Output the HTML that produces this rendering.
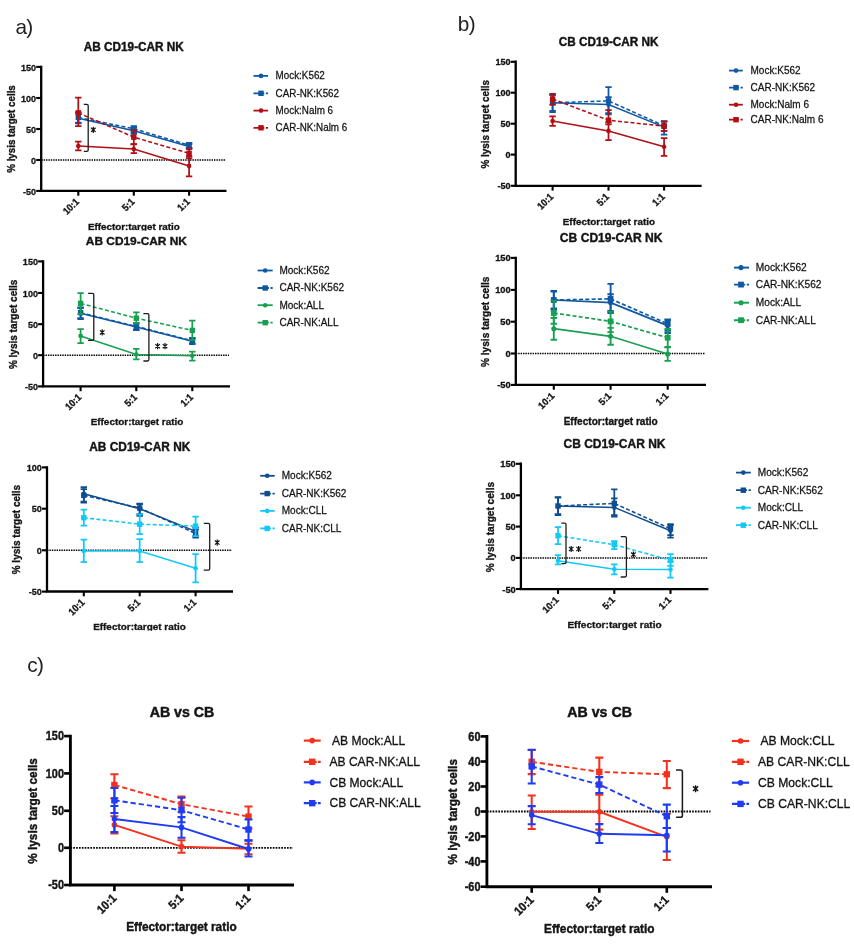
<!DOCTYPE html>
<html><head><meta charset="utf-8"><title>Figure</title>
<style>
html,body{margin:0;padding:0;background:#fff;}
body{width:854px;height:947px;overflow:hidden;font-family:"Liberation Sans", sans-serif;}
svg{display:block;font-family:"Liberation Sans", sans-serif;filter:blur(0.45px);}
</style></head><body>
<svg width="854" height="947" viewBox="0 0 854 947">
<rect width="854" height="947" fill="#fff"/>
<g>
<line x1="41.2" y1="160" x2="225.5" y2="160" stroke="#000" stroke-width="1.55" stroke-dasharray="1.45 0.95"/>
<path d="M78.3 118.2 L133.8 130.8 L189.1 146.6" fill="none" stroke="#0f58a3" stroke-width="1.55"/>
<path d="M78.3 113V123.4M75.1 113H81.5M75.1 123.4H81.5" fill="none" stroke="#0f58a3" stroke-width="1.75"/>
<circle cx="78.3" cy="118.2" r="2.3" fill="#0f58a3"/>
<path d="M133.8 127.6V133.8M130.6 127.6H137M130.6 133.8H137" fill="none" stroke="#0f58a3" stroke-width="1.75"/>
<circle cx="133.8" cy="130.8" r="2.3" fill="#0f58a3"/>
<path d="M189.1 144V149M185.9 144H192.3M185.9 149H192.3" fill="none" stroke="#0f58a3" stroke-width="1.75"/>
<circle cx="189.1" cy="146.6" r="2.3" fill="#0f58a3"/>
<path d="M78.3 117.4 L133.8 128.8 L189.1 145.2" fill="none" stroke="#0f58a3" stroke-width="1.55" stroke-dasharray="4 2.3"/>
<path d="M78.3 112V122.6M75.1 112H81.5M75.1 122.6H81.5" fill="none" stroke="#0f58a3" stroke-width="1.75"/>
<rect x="75.6" y="114.7" width="5.4" height="5.4" fill="#0f58a3"/>
<path d="M133.8 126V132M130.6 126H137M130.6 132H137" fill="none" stroke="#0f58a3" stroke-width="1.75"/>
<rect x="131.1" y="126.1" width="5.4" height="5.4" fill="#0f58a3"/>
<path d="M189.1 142.8V147.8M185.9 142.8H192.3M185.9 147.8H192.3" fill="none" stroke="#0f58a3" stroke-width="1.75"/>
<rect x="186.4" y="142.5" width="5.4" height="5.4" fill="#0f58a3"/>
<path d="M78.3 146 L133.8 149 L189.1 165.9" fill="none" stroke="#b20e13" stroke-width="1.55"/>
<path d="M78.3 141.5V150.3M75.1 141.5H81.5M75.1 150.3H81.5" fill="none" stroke="#b20e13" stroke-width="1.75"/>
<circle cx="78.3" cy="146" r="2.3" fill="#b20e13"/>
<path d="M133.8 144.3V153.2M130.6 144.3H137M130.6 153.2H137" fill="none" stroke="#b20e13" stroke-width="1.75"/>
<circle cx="133.8" cy="149" r="2.3" fill="#b20e13"/>
<path d="M189.1 156V176.4M185.9 156H192.3M185.9 176.4H192.3" fill="none" stroke="#b20e13" stroke-width="1.75"/>
<circle cx="189.1" cy="165.9" r="2.3" fill="#b20e13"/>
<path d="M78.3 112.8 L133.8 137.2 L189.1 153.3" fill="none" stroke="#b20e13" stroke-width="1.55" stroke-dasharray="4 2.3"/>
<path d="M78.3 97.7V126.2M75.1 97.7H81.5M75.1 126.2H81.5" fill="none" stroke="#b20e13" stroke-width="1.75"/>
<rect x="75.6" y="110.1" width="5.4" height="5.4" fill="#b20e13"/>
<path d="M133.8 130.3V144.1M130.6 130.3H137M130.6 144.1H137" fill="none" stroke="#b20e13" stroke-width="1.75"/>
<rect x="131.1" y="134.5" width="5.4" height="5.4" fill="#b20e13"/>
<path d="M189.1 148.4V158M185.9 148.4H192.3M185.9 158H192.3" fill="none" stroke="#b20e13" stroke-width="1.75"/>
<rect x="186.4" y="150.6" width="5.4" height="5.4" fill="#b20e13"/>
<path d="M41.2 66.95V190.9H225.35" fill="none" stroke="#000" stroke-width="2.3" stroke-linecap="square"/>
<line x1="36.2" y1="66.9" x2="41.2" y2="66.9" stroke="#000" stroke-width="2.12"/>
<text font-size="9.05" font-weight="700" stroke="#141414" stroke-width="0.29" text-anchor="end" fill="#141414" transform="translate(36.05 70.56) scale(1 1.100)">150</text>
<line x1="36.2" y1="98" x2="41.2" y2="98" stroke="#000" stroke-width="2.12"/>
<text font-size="9.05" font-weight="700" stroke="#141414" stroke-width="0.29" text-anchor="end" fill="#141414" transform="translate(36.05 101.66) scale(1 1.100)">100</text>
<line x1="36.2" y1="129" x2="41.2" y2="129" stroke="#000" stroke-width="2.12"/>
<text font-size="9.05" font-weight="700" stroke="#141414" stroke-width="0.29" text-anchor="end" fill="#141414" transform="translate(36.05 132.66) scale(1 1.100)">50</text>
<line x1="36.2" y1="160" x2="41.2" y2="160" stroke="#000" stroke-width="2.12"/>
<text font-size="9.05" font-weight="700" stroke="#141414" stroke-width="0.29" text-anchor="end" fill="#141414" transform="translate(36.05 163.66) scale(1 1.100)">0</text>
<line x1="36.2" y1="190.9" x2="41.2" y2="190.9" stroke="#000" stroke-width="2.12"/>
<text font-size="9.05" font-weight="700" stroke="#141414" stroke-width="0.29" text-anchor="end" fill="#141414" transform="translate(36.05 194.56) scale(1 1.100)">-50</text>
<line x1="78.3" y1="190.9" x2="78.3" y2="195.7" stroke="#000" stroke-width="2.12"/>
<text font-size="9.05" font-weight="700" stroke="#141414" stroke-width="0.29" text-anchor="end" fill="#141414" transform="translate(79.7 202.5) rotate(-45) scale(1 1.100)">10:1</text>
<line x1="133.8" y1="190.9" x2="133.8" y2="195.7" stroke="#000" stroke-width="2.12"/>
<text font-size="9.05" font-weight="700" stroke="#141414" stroke-width="0.29" text-anchor="end" fill="#141414" transform="translate(135.2 202.5) rotate(-45) scale(1 1.100)">5:1</text>
<line x1="189.1" y1="190.9" x2="189.1" y2="195.7" stroke="#000" stroke-width="2.12"/>
<text font-size="9.05" font-weight="700" stroke="#141414" stroke-width="0.29" text-anchor="end" fill="#141414" transform="translate(190.5 202.5) rotate(-45) scale(1 1.100)">1:1</text>
<text font-size="11.8" font-weight="700" stroke="#141414" stroke-width="0.38" text-anchor="middle" fill="#141414" transform="translate(133.8 51.2) scale(1 1.050)">AB CD19-CAR NK</text>
<text font-size="9.85" font-weight="700" stroke="#141414" stroke-width="0.32" text-anchor="middle" fill="#141414" transform="translate(133.8 229.5) scale(1 0.930)">Effector:target ratio</text>
<text font-size="9.8" font-weight="700" stroke="#141414" stroke-width="0.31" text-anchor="middle" fill="#141414" transform="translate(15.2 129) rotate(-90) scale(1 1.150)">% lysis target cells</text>
<path d="M83.8 104.3H86.8Q88.2 104.3 88.2 105.7V149.9Q88.2 151.3 86.8 151.3H83.8" fill="none" stroke="#1c1c1c" stroke-width="1.3"/>
<path d="M93.3 126.7V132.9M91.01 127.72L95.59 131.88M91.01 131.88L95.59 127.72" fill="none" stroke="#111" stroke-width="1.2"/>
<line x1="253.5" y1="75.9" x2="268.1" y2="75.9" stroke="#0f58a3" stroke-width="1.78"/>
<circle cx="261" cy="75.9" r="2.3" fill="#0f58a3"/>
<text font-size="9.85" stroke="#141414" stroke-width="0.24" text-anchor="start" fill="#141414" transform="translate(275.6 79.24) scale(1 1.090)">Mock:K562</text>
<path d="M253.5 93.3H264.3M265.9 93.3H268.1" fill="none" stroke="#0f58a3" stroke-width="1.78"/>
<rect x="258.3" y="90.6" width="5.4" height="5.4" fill="#0f58a3"/>
<text font-size="9.85" stroke="#141414" stroke-width="0.24" text-anchor="start" fill="#141414" transform="translate(275.6 96.64) scale(1 1.090)">CAR-NK:K562</text>
<line x1="253.5" y1="110.6" x2="268.1" y2="110.6" stroke="#b20e13" stroke-width="1.78"/>
<circle cx="261" cy="110.6" r="2.3" fill="#b20e13"/>
<text font-size="9.85" stroke="#141414" stroke-width="0.24" text-anchor="start" fill="#141414" transform="translate(275.6 113.94) scale(1 1.090)">Mock:Nalm 6</text>
<path d="M253.5 127.8H264.3M265.9 127.8H268.1" fill="none" stroke="#b20e13" stroke-width="1.78"/>
<rect x="258.3" y="125.1" width="5.4" height="5.4" fill="#b20e13"/>
<text font-size="9.85" stroke="#141414" stroke-width="0.24" text-anchor="start" fill="#141414" transform="translate(275.6 131.14) scale(1 1.090)">CAR-NK:Nalm 6</text>
</g>
<g>
<line x1="43.1" y1="355.2" x2="229" y2="355.2" stroke="#000" stroke-width="1.55" stroke-dasharray="1.45 0.95"/>
<path d="M80.6 313.2 L136.3 326.9 L192.3 341.2" fill="none" stroke="#0f58a3" stroke-width="1.55"/>
<path d="M80.6 308V319M77.4 308H83.8M77.4 319H83.8" fill="none" stroke="#0f58a3" stroke-width="1.75"/>
<circle cx="80.6" cy="313.2" r="2.3" fill="#0f58a3"/>
<path d="M136.3 323.6V330M133.1 323.6H139.5M133.1 330H139.5" fill="none" stroke="#0f58a3" stroke-width="1.75"/>
<circle cx="136.3" cy="326.9" r="2.3" fill="#0f58a3"/>
<path d="M192.3 338.5V344M189.1 338.5H195.5M189.1 344H195.5" fill="none" stroke="#0f58a3" stroke-width="1.75"/>
<circle cx="192.3" cy="341.2" r="2.3" fill="#0f58a3"/>
<path d="M80.6 312.7 L136.3 326.4 L192.3 340.7" fill="none" stroke="#0f58a3" stroke-width="1.55" stroke-dasharray="4 2.3"/>
<path d="M80.6 307.4V318.2M77.4 307.4H83.8M77.4 318.2H83.8" fill="none" stroke="#0f58a3" stroke-width="1.75"/>
<rect x="77.9" y="310" width="5.4" height="5.4" fill="#0f58a3"/>
<path d="M136.3 323V329.6M133.1 323H139.5M133.1 329.6H139.5" fill="none" stroke="#0f58a3" stroke-width="1.75"/>
<rect x="133.6" y="323.7" width="5.4" height="5.4" fill="#0f58a3"/>
<path d="M192.3 337.8V343.4M189.1 337.8H195.5M189.1 343.4H195.5" fill="none" stroke="#0f58a3" stroke-width="1.75"/>
<rect x="189.6" y="338" width="5.4" height="5.4" fill="#0f58a3"/>
<path d="M80.6 335.9 L136.3 354.5 L192.3 355.7" fill="none" stroke="#17a050" stroke-width="1.55"/>
<path d="M80.6 329V343M77.4 329H83.8M77.4 343H83.8" fill="none" stroke="#17a050" stroke-width="1.75"/>
<circle cx="80.6" cy="335.9" r="2.3" fill="#17a050"/>
<path d="M136.3 348.8V359.3M133.1 348.8H139.5M133.1 359.3H139.5" fill="none" stroke="#17a050" stroke-width="1.75"/>
<circle cx="136.3" cy="354.5" r="2.3" fill="#17a050"/>
<path d="M192.3 351.5V360.5M189.1 351.5H195.5M189.1 360.5H195.5" fill="none" stroke="#17a050" stroke-width="1.75"/>
<circle cx="192.3" cy="355.7" r="2.3" fill="#17a050"/>
<path d="M80.6 303.4 L136.3 318.2 L192.3 330.4" fill="none" stroke="#17a050" stroke-width="1.55" stroke-dasharray="4 2.3"/>
<path d="M80.6 293V314M77.4 293H83.8M77.4 314H83.8" fill="none" stroke="#17a050" stroke-width="1.75"/>
<rect x="77.9" y="300.7" width="5.4" height="5.4" fill="#17a050"/>
<path d="M136.3 312.4V323.6M133.1 312.4H139.5M133.1 323.6H139.5" fill="none" stroke="#17a050" stroke-width="1.75"/>
<rect x="133.6" y="315.5" width="5.4" height="5.4" fill="#17a050"/>
<path d="M192.3 320.6V340.2M189.1 320.6H195.5M189.1 340.2H195.5" fill="none" stroke="#17a050" stroke-width="1.75"/>
<rect x="189.6" y="327.7" width="5.4" height="5.4" fill="#17a050"/>
<path d="M43.1 261.45V386.4H228.85" fill="none" stroke="#000" stroke-width="2.3" stroke-linecap="square"/>
<line x1="38.1" y1="261.4" x2="43.1" y2="261.4" stroke="#000" stroke-width="2.12"/>
<text font-size="9.05" font-weight="700" stroke="#141414" stroke-width="0.29" text-anchor="end" fill="#141414" transform="translate(37.95 265.06) scale(1 1.100)">150</text>
<line x1="38.1" y1="293" x2="43.1" y2="293" stroke="#000" stroke-width="2.12"/>
<text font-size="9.05" font-weight="700" stroke="#141414" stroke-width="0.29" text-anchor="end" fill="#141414" transform="translate(37.95 296.66) scale(1 1.100)">100</text>
<line x1="38.1" y1="324.2" x2="43.1" y2="324.2" stroke="#000" stroke-width="2.12"/>
<text font-size="9.05" font-weight="700" stroke="#141414" stroke-width="0.29" text-anchor="end" fill="#141414" transform="translate(37.95 327.86) scale(1 1.100)">50</text>
<line x1="38.1" y1="355.2" x2="43.1" y2="355.2" stroke="#000" stroke-width="2.12"/>
<text font-size="9.05" font-weight="700" stroke="#141414" stroke-width="0.29" text-anchor="end" fill="#141414" transform="translate(37.95 358.86) scale(1 1.100)">0</text>
<line x1="38.1" y1="386.4" x2="43.1" y2="386.4" stroke="#000" stroke-width="2.12"/>
<text font-size="9.05" font-weight="700" stroke="#141414" stroke-width="0.29" text-anchor="end" fill="#141414" transform="translate(37.95 390.06) scale(1 1.100)">-50</text>
<line x1="80.6" y1="386.4" x2="80.6" y2="391.2" stroke="#000" stroke-width="2.12"/>
<text font-size="9.05" font-weight="700" stroke="#141414" stroke-width="0.29" text-anchor="end" fill="#141414" transform="translate(82 398) rotate(-45) scale(1 1.100)">10:1</text>
<line x1="136.3" y1="386.4" x2="136.3" y2="391.2" stroke="#000" stroke-width="2.12"/>
<text font-size="9.05" font-weight="700" stroke="#141414" stroke-width="0.29" text-anchor="end" fill="#141414" transform="translate(137.7 398) rotate(-45) scale(1 1.100)">5:1</text>
<line x1="192.3" y1="386.4" x2="192.3" y2="391.2" stroke="#000" stroke-width="2.12"/>
<text font-size="9.05" font-weight="700" stroke="#141414" stroke-width="0.29" text-anchor="end" fill="#141414" transform="translate(193.7 398) rotate(-45) scale(1 1.100)">1:1</text>
<text font-size="11.9" font-weight="700" stroke="#141414" stroke-width="0.38" text-anchor="middle" fill="#141414" transform="translate(136.4 245.3) scale(1 0.950)">AB CD19-CAR NK</text>
<text font-size="9.95" font-weight="700" stroke="#141414" stroke-width="0.32" text-anchor="middle" fill="#141414" transform="translate(137 424.5) scale(1 0.930)">Effector:target ratio</text>
<text font-size="10" font-weight="700" stroke="#141414" stroke-width="0.32" text-anchor="middle" fill="#141414" transform="translate(16.8 324.4) rotate(-90) scale(1 1.150)">% lysis target cells</text>
<path d="M88.1 293.4H92.4Q93.8 293.4 93.8 294.8V339Q93.8 340.4 92.4 340.4H88.1" fill="none" stroke="#1c1c1c" stroke-width="1.3"/>
<path d="M102.2 329.3V335.5M99.91 330.32L104.49 334.48M99.91 334.48L104.49 330.32" fill="none" stroke="#111" stroke-width="1.2"/>
<path d="M143.4 313.6H147.5Q148.9 313.6 148.9 315V359.6Q148.9 361 147.5 361H143.4" fill="none" stroke="#1c1c1c" stroke-width="1.3"/>
<path d="M157.6 343.1V349.3M155.31 344.12L159.89 348.28M155.31 348.28L159.89 344.12" fill="none" stroke="#111" stroke-width="1.2"/>
<path d="M165 343.1V349.3M162.71 344.12L167.29 348.28M162.71 348.28L167.29 344.12" fill="none" stroke="#111" stroke-width="1.2"/>
<line x1="257.6" y1="270.5" x2="272.7" y2="270.5" stroke="#0f58a3" stroke-width="1.78"/>
<circle cx="265.2" cy="270.5" r="2.3" fill="#0f58a3"/>
<text font-size="10.05" stroke="#141414" stroke-width="0.24" text-anchor="start" fill="#141414" transform="translate(279.4 273.92) scale(1 1.090)">Mock:K562</text>
<path d="M257.6 288H268.9M270.5 288H272.7" fill="none" stroke="#0f58a3" stroke-width="1.78"/>
<rect x="262.5" y="285.3" width="5.4" height="5.4" fill="#0f58a3"/>
<text font-size="10.05" stroke="#141414" stroke-width="0.24" text-anchor="start" fill="#141414" transform="translate(279.4 291.42) scale(1 1.090)">CAR-NK:K562</text>
<line x1="257.6" y1="305.2" x2="272.7" y2="305.2" stroke="#17a050" stroke-width="1.78"/>
<circle cx="265.2" cy="305.2" r="2.3" fill="#17a050"/>
<text font-size="10.05" stroke="#141414" stroke-width="0.24" text-anchor="start" fill="#141414" transform="translate(279.4 308.62) scale(1 1.090)">Mock:ALL</text>
<path d="M257.6 322.7H268.9M270.5 322.7H272.7" fill="none" stroke="#17a050" stroke-width="1.78"/>
<rect x="262.5" y="320" width="5.4" height="5.4" fill="#17a050"/>
<text font-size="10.05" stroke="#141414" stroke-width="0.24" text-anchor="start" fill="#141414" transform="translate(279.4 326.12) scale(1 1.090)">CAR-NK:ALL</text>
</g>
<g>
<line x1="47" y1="550.2" x2="232" y2="550.2" stroke="#000" stroke-width="1.55" stroke-dasharray="1.45 0.95"/>
<path d="M83.8 493.8 L139.7 508.7 L195.6 531.4" fill="none" stroke="#0e4d8f" stroke-width="1.55"/>
<path d="M83.8 487.2V502.7M80.6 487.2H87M80.6 502.7H87" fill="none" stroke="#0e4d8f" stroke-width="1.75"/>
<circle cx="83.8" cy="493.8" r="2.3" fill="#0e4d8f"/>
<path d="M139.7 504.2V514M136.5 504.2H142.9M136.5 514H142.9" fill="none" stroke="#0e4d8f" stroke-width="1.75"/>
<circle cx="139.7" cy="508.7" r="2.3" fill="#0e4d8f"/>
<path d="M195.6 527.5V536M192.4 527.5H198.8M192.4 536H198.8" fill="none" stroke="#0e4d8f" stroke-width="1.75"/>
<circle cx="195.6" cy="531.4" r="2.3" fill="#0e4d8f"/>
<path d="M83.8 495.3 L139.7 508 L195.6 533.5" fill="none" stroke="#0e4d8f" stroke-width="1.55" stroke-dasharray="4 2.3"/>
<path d="M83.8 489V501.5M80.6 489H87M80.6 501.5H87" fill="none" stroke="#0e4d8f" stroke-width="1.75"/>
<rect x="81.1" y="492.6" width="5.4" height="5.4" fill="#0e4d8f"/>
<path d="M139.7 503.5V515.8M136.5 503.5H142.9M136.5 515.8H142.9" fill="none" stroke="#0e4d8f" stroke-width="1.75"/>
<rect x="137" y="505.3" width="5.4" height="5.4" fill="#0e4d8f"/>
<path d="M195.6 529.5V537.7M192.4 529.5H198.8M192.4 537.7H198.8" fill="none" stroke="#0e4d8f" stroke-width="1.75"/>
<rect x="192.9" y="530.8" width="5.4" height="5.4" fill="#0e4d8f"/>
<path d="M83.8 550.9 L139.7 550.9 L195.6 568.3" fill="none" stroke="#10c9f7" stroke-width="1.55"/>
<path d="M83.8 539.6V562M80.6 539.6H87M80.6 562H87" fill="none" stroke="#10c9f7" stroke-width="1.75"/>
<circle cx="83.8" cy="550.9" r="2.3" fill="#10c9f7"/>
<path d="M139.7 539.2V562M136.5 539.2H142.9M136.5 562H142.9" fill="none" stroke="#10c9f7" stroke-width="1.75"/>
<circle cx="139.7" cy="550.9" r="2.3" fill="#10c9f7"/>
<path d="M195.6 554.2V582.3M192.4 554.2H198.8M192.4 582.3H198.8" fill="none" stroke="#10c9f7" stroke-width="1.75"/>
<circle cx="195.6" cy="568.3" r="2.3" fill="#10c9f7"/>
<path d="M83.8 517.7 L139.7 524.2 L195.6 526.1" fill="none" stroke="#10c9f7" stroke-width="1.55" stroke-dasharray="4 2.3"/>
<path d="M83.8 509.5V525.6M80.6 509.5H87M80.6 525.6H87" fill="none" stroke="#10c9f7" stroke-width="1.75"/>
<rect x="81.1" y="515" width="5.4" height="5.4" fill="#10c9f7"/>
<path d="M139.7 514.3V534M136.5 514.3H142.9M136.5 534H142.9" fill="none" stroke="#10c9f7" stroke-width="1.75"/>
<rect x="137" y="521.5" width="5.4" height="5.4" fill="#10c9f7"/>
<path d="M195.6 516.6V536.2M192.4 516.6H198.8M192.4 536.2H198.8" fill="none" stroke="#10c9f7" stroke-width="1.75"/>
<rect x="192.9" y="523.4" width="5.4" height="5.4" fill="#10c9f7"/>
<path d="M47 467.35V591.5H231.85" fill="none" stroke="#000" stroke-width="2.3" stroke-linecap="square"/>
<line x1="42" y1="467.4" x2="47" y2="467.4" stroke="#000" stroke-width="2.12"/>
<text font-size="9.05" font-weight="700" stroke="#141414" stroke-width="0.29" text-anchor="end" fill="#141414" transform="translate(41.85 471.06) scale(1 1.100)">100</text>
<line x1="42" y1="508.7" x2="47" y2="508.7" stroke="#000" stroke-width="2.12"/>
<text font-size="9.05" font-weight="700" stroke="#141414" stroke-width="0.29" text-anchor="end" fill="#141414" transform="translate(41.85 512.36) scale(1 1.100)">50</text>
<line x1="42" y1="550.3" x2="47" y2="550.3" stroke="#000" stroke-width="2.12"/>
<text font-size="9.05" font-weight="700" stroke="#141414" stroke-width="0.29" text-anchor="end" fill="#141414" transform="translate(41.85 553.96) scale(1 1.100)">0</text>
<line x1="42" y1="591.6" x2="47" y2="591.6" stroke="#000" stroke-width="2.12"/>
<text font-size="9.05" font-weight="700" stroke="#141414" stroke-width="0.29" text-anchor="end" fill="#141414" transform="translate(41.85 595.26) scale(1 1.100)">-50</text>
<line x1="83.8" y1="591.5" x2="83.8" y2="596.3" stroke="#000" stroke-width="2.12"/>
<text font-size="9.05" font-weight="700" stroke="#141414" stroke-width="0.29" text-anchor="end" fill="#141414" transform="translate(85.2 603.1) rotate(-45) scale(1 1.100)">10:1</text>
<line x1="139.7" y1="591.5" x2="139.7" y2="596.3" stroke="#000" stroke-width="2.12"/>
<text font-size="9.05" font-weight="700" stroke="#141414" stroke-width="0.29" text-anchor="end" fill="#141414" transform="translate(141.1 603.1) rotate(-45) scale(1 1.100)">5:1</text>
<line x1="195.6" y1="591.5" x2="195.6" y2="596.3" stroke="#000" stroke-width="2.12"/>
<text font-size="9.05" font-weight="700" stroke="#141414" stroke-width="0.29" text-anchor="end" fill="#141414" transform="translate(197 603.1) rotate(-45) scale(1 1.100)">1:1</text>
<text font-size="11.9" font-weight="700" stroke="#141414" stroke-width="0.38" text-anchor="middle" fill="#141414" transform="translate(139.8 451.4) scale(1 1.050)">AB CD19-CAR NK</text>
<text font-size="9.95" font-weight="700" stroke="#141414" stroke-width="0.32" text-anchor="middle" fill="#141414" transform="translate(139.5 629.9) scale(1 0.930)">Effector:target ratio</text>
<text font-size="10" font-weight="700" stroke="#141414" stroke-width="0.32" text-anchor="middle" fill="#141414" transform="translate(20.4 529.6) rotate(-90) scale(1 1.150)">% lysis target cells</text>
<path d="M203.8 523.3H208.3Q209.7 523.3 209.7 524.7V568.7Q209.7 570.1 208.3 570.1H203.8" fill="none" stroke="#1c1c1c" stroke-width="1.3"/>
<path d="M217.2 539.5V545.7M214.91 540.52L219.49 544.68M214.91 544.68L219.49 540.52" fill="none" stroke="#111" stroke-width="1.2"/>
<line x1="260.2" y1="475.8" x2="274.7" y2="475.8" stroke="#0e4d8f" stroke-width="1.78"/>
<circle cx="267.2" cy="475.8" r="2.3" fill="#0e4d8f"/>
<text font-size="10.05" stroke="#141414" stroke-width="0.24" text-anchor="start" fill="#141414" transform="translate(281.7 479.22) scale(1 1.090)">Mock:K562</text>
<path d="M260.2 493.6H270.9M272.5 493.6H274.7" fill="none" stroke="#0e4d8f" stroke-width="1.78"/>
<rect x="264.5" y="490.9" width="5.4" height="5.4" fill="#0e4d8f"/>
<text font-size="10.05" stroke="#141414" stroke-width="0.24" text-anchor="start" fill="#141414" transform="translate(281.7 497.02) scale(1 1.090)">CAR-NK:K562</text>
<line x1="260.2" y1="510.9" x2="274.7" y2="510.9" stroke="#10c9f7" stroke-width="1.78"/>
<circle cx="267.2" cy="510.9" r="2.3" fill="#10c9f7"/>
<text font-size="10.05" stroke="#141414" stroke-width="0.24" text-anchor="start" fill="#141414" transform="translate(281.7 514.32) scale(1 1.090)">Mock:CLL</text>
<path d="M260.2 528.4H270.9M272.5 528.4H274.7" fill="none" stroke="#10c9f7" stroke-width="1.78"/>
<rect x="264.5" y="525.7" width="5.4" height="5.4" fill="#10c9f7"/>
<text font-size="10.05" stroke="#141414" stroke-width="0.24" text-anchor="start" fill="#141414" transform="translate(281.7 531.82) scale(1 1.090)">CAR-NK:CLL</text>
</g>
<g>
<path d="M552.6 102.8 L608.5 104.6 L664.1 127.1" fill="none" stroke="#0f58a3" stroke-width="1.55"/>
<path d="M552.6 94.6V112M549.4 94.6H555.8M549.4 112H555.8" fill="none" stroke="#0f58a3" stroke-width="1.75"/>
<circle cx="552.6" cy="102.8" r="2.3" fill="#0f58a3"/>
<path d="M608.5 97.2V114.4M605.3 97.2H611.7M605.3 114.4H611.7" fill="none" stroke="#0f58a3" stroke-width="1.75"/>
<circle cx="608.5" cy="104.6" r="2.3" fill="#0f58a3"/>
<path d="M664.1 121.5V134.6M660.9 121.5H667.3M660.9 134.6H667.3" fill="none" stroke="#0f58a3" stroke-width="1.75"/>
<circle cx="664.1" cy="127.1" r="2.3" fill="#0f58a3"/>
<path d="M552.6 102.8 L608.5 100.9 L664.1 125.8" fill="none" stroke="#0f58a3" stroke-width="1.55" stroke-dasharray="4 2.3"/>
<path d="M552.6 95V110.8M549.4 95H555.8M549.4 110.8H555.8" fill="none" stroke="#0f58a3" stroke-width="1.75"/>
<rect x="549.9" y="100.1" width="5.4" height="5.4" fill="#0f58a3"/>
<path d="M608.5 87.2V113M605.3 87.2H611.7M605.3 113H611.7" fill="none" stroke="#0f58a3" stroke-width="1.75"/>
<rect x="605.8" y="98.2" width="5.4" height="5.4" fill="#0f58a3"/>
<path d="M664.1 121V130.9M660.9 121H667.3M660.9 130.9H667.3" fill="none" stroke="#0f58a3" stroke-width="1.75"/>
<rect x="661.4" y="123.1" width="5.4" height="5.4" fill="#0f58a3"/>
<path d="M552.6 121 L608.5 130.9 L664.1 146.8" fill="none" stroke="#b20e13" stroke-width="1.55"/>
<path d="M552.6 116.4V125.8M549.4 116.4H555.8M549.4 125.8H555.8" fill="none" stroke="#b20e13" stroke-width="1.75"/>
<circle cx="552.6" cy="121" r="2.3" fill="#b20e13"/>
<path d="M608.5 122.3V140.2M605.3 122.3H611.7M605.3 140.2H611.7" fill="none" stroke="#b20e13" stroke-width="1.75"/>
<circle cx="608.5" cy="130.9" r="2.3" fill="#b20e13"/>
<path d="M664.1 138V155.8M660.9 138H667.3M660.9 155.8H667.3" fill="none" stroke="#b20e13" stroke-width="1.75"/>
<circle cx="664.1" cy="146.8" r="2.3" fill="#b20e13"/>
<path d="M552.6 99 L608.5 120.2 L664.1 126.2" fill="none" stroke="#b20e13" stroke-width="1.55" stroke-dasharray="4 2.3"/>
<path d="M552.6 93.8V104.6M549.4 93.8H555.8M549.4 104.6H555.8" fill="none" stroke="#b20e13" stroke-width="1.75"/>
<rect x="549.9" y="96.3" width="5.4" height="5.4" fill="#b20e13"/>
<path d="M608.5 110V124.3M605.3 110H611.7M605.3 124.3H611.7" fill="none" stroke="#b20e13" stroke-width="1.75"/>
<rect x="605.8" y="117.5" width="5.4" height="5.4" fill="#b20e13"/>
<path d="M664.1 121.5V130.9M660.9 121.5H667.3M660.9 130.9H667.3" fill="none" stroke="#b20e13" stroke-width="1.75"/>
<rect x="661.4" y="123.5" width="5.4" height="5.4" fill="#b20e13"/>
<path d="M515.7 61.75V185.8H700.45" fill="none" stroke="#000" stroke-width="2.3" stroke-linecap="square"/>
<line x1="510.7" y1="61.8" x2="515.7" y2="61.8" stroke="#000" stroke-width="2.12"/>
<text font-size="9.05" font-weight="700" stroke="#141414" stroke-width="0.29" text-anchor="end" fill="#141414" transform="translate(510.55 65.46) scale(1 1.100)">150</text>
<line x1="510.7" y1="92.7" x2="515.7" y2="92.7" stroke="#000" stroke-width="2.12"/>
<text font-size="9.05" font-weight="700" stroke="#141414" stroke-width="0.29" text-anchor="end" fill="#141414" transform="translate(510.55 96.36) scale(1 1.100)">100</text>
<line x1="510.7" y1="123.7" x2="515.7" y2="123.7" stroke="#000" stroke-width="2.12"/>
<text font-size="9.05" font-weight="700" stroke="#141414" stroke-width="0.29" text-anchor="end" fill="#141414" transform="translate(510.55 127.36) scale(1 1.100)">50</text>
<line x1="510.7" y1="154.6" x2="515.7" y2="154.6" stroke="#000" stroke-width="2.12"/>
<text font-size="9.05" font-weight="700" stroke="#141414" stroke-width="0.29" text-anchor="end" fill="#141414" transform="translate(510.55 158.26) scale(1 1.100)">0</text>
<line x1="510.7" y1="185.8" x2="515.7" y2="185.8" stroke="#000" stroke-width="2.12"/>
<text font-size="9.05" font-weight="700" stroke="#141414" stroke-width="0.29" text-anchor="end" fill="#141414" transform="translate(510.55 189.46) scale(1 1.100)">-50</text>
<line x1="552.6" y1="185.8" x2="552.6" y2="190.6" stroke="#000" stroke-width="2.12"/>
<text font-size="9.05" font-weight="700" stroke="#141414" stroke-width="0.29" text-anchor="end" fill="#141414" transform="translate(554 197.4) rotate(-45) scale(1 1.100)">10:1</text>
<line x1="608.5" y1="185.8" x2="608.5" y2="190.6" stroke="#000" stroke-width="2.12"/>
<text font-size="9.05" font-weight="700" stroke="#141414" stroke-width="0.29" text-anchor="end" fill="#141414" transform="translate(609.9 197.4) rotate(-45) scale(1 1.100)">5:1</text>
<line x1="664.1" y1="185.8" x2="664.1" y2="190.6" stroke="#000" stroke-width="2.12"/>
<text font-size="9.05" font-weight="700" stroke="#141414" stroke-width="0.29" text-anchor="end" fill="#141414" transform="translate(665.5 197.4) rotate(-45) scale(1 1.100)">1:1</text>
<text font-size="11.75" font-weight="700" stroke="#141414" stroke-width="0.38" text-anchor="middle" fill="#141414" transform="translate(608.6 46.1) scale(1 1.050)">CB CD19-CAR NK</text>
<text font-size="9.9" font-weight="700" stroke="#141414" stroke-width="0.32" text-anchor="middle" fill="#141414" transform="translate(608.9 224.5) scale(1 0.930)">Effector:target ratio</text>
<text font-size="9.9" font-weight="700" stroke="#141414" stroke-width="0.32" text-anchor="middle" fill="#141414" transform="translate(489.3 124.3) rotate(-90) scale(1 1.100)">% lysis target cells</text>
<line x1="729" y1="70.6" x2="742.8" y2="70.6" stroke="#0f58a3" stroke-width="1.78"/>
<circle cx="736" cy="70.6" r="2.3" fill="#0f58a3"/>
<text font-size="10.03" stroke="#141414" stroke-width="0.24" text-anchor="start" fill="#141414" transform="translate(750.5 73.71) scale(1 1.090)">Mock:K562</text>
<path d="M729 87.6H739M740.6 87.6H742.8" fill="none" stroke="#0f58a3" stroke-width="1.78"/>
<rect x="733.3" y="84.9" width="5.4" height="5.4" fill="#0f58a3"/>
<text font-size="10.03" stroke="#141414" stroke-width="0.24" text-anchor="start" fill="#141414" transform="translate(750.5 90.71) scale(1 1.090)">CAR-NK:K562</text>
<line x1="729" y1="104.7" x2="742.8" y2="104.7" stroke="#b20e13" stroke-width="1.78"/>
<circle cx="736" cy="104.7" r="2.3" fill="#b20e13"/>
<text font-size="10.03" stroke="#141414" stroke-width="0.24" text-anchor="start" fill="#141414" transform="translate(750.5 107.81) scale(1 1.090)">Mock:Nalm 6</text>
<path d="M729 119.7H739M740.6 119.7H742.8" fill="none" stroke="#b20e13" stroke-width="1.78"/>
<rect x="733.3" y="117" width="5.4" height="5.4" fill="#b20e13"/>
<text font-size="10.03" stroke="#141414" stroke-width="0.24" text-anchor="start" fill="#141414" transform="translate(750.5 122.81) scale(1 1.090)">CAR-NK:Nalm 6</text>
</g>
<g>
<line x1="515.8" y1="353.5" x2="705" y2="353.5" stroke="#000" stroke-width="1.55" stroke-dasharray="1.45 0.95"/>
<path d="M553.8 300 L610.6 302.6 L667.7 325.6" fill="none" stroke="#0f58a3" stroke-width="1.7"/>
<path d="M553.8 290.8V309.6M550.6 290.8H557M550.6 309.6H557" fill="none" stroke="#0f58a3" stroke-width="1.85"/>
<circle cx="553.8" cy="300" r="2.55" fill="#0f58a3"/>
<path d="M610.6 294.2V313M607.4 294.2H613.8M607.4 313H613.8" fill="none" stroke="#0f58a3" stroke-width="1.85"/>
<circle cx="610.6" cy="302.6" r="2.55" fill="#0f58a3"/>
<path d="M667.7 320V333M664.5 320H670.9M664.5 333H670.9" fill="none" stroke="#0f58a3" stroke-width="1.85"/>
<circle cx="667.7" cy="325.6" r="2.55" fill="#0f58a3"/>
<path d="M553.8 300 L610.6 298.9 L667.7 323.7" fill="none" stroke="#0f58a3" stroke-width="1.7" stroke-dasharray="4 2.3"/>
<path d="M553.8 291.5V308.5M550.6 291.5H557M550.6 308.5H557" fill="none" stroke="#0f58a3" stroke-width="1.85"/>
<rect x="550.9" y="297.1" width="5.8" height="5.8" fill="#0f58a3"/>
<path d="M610.6 283.8V311M607.4 283.8H613.8M607.4 311H613.8" fill="none" stroke="#0f58a3" stroke-width="1.85"/>
<rect x="607.7" y="296" width="5.8" height="5.8" fill="#0f58a3"/>
<path d="M667.7 319.4V330.7M664.5 319.4H670.9M664.5 330.7H670.9" fill="none" stroke="#0f58a3" stroke-width="1.85"/>
<rect x="664.8" y="320.8" width="5.8" height="5.8" fill="#0f58a3"/>
<path d="M553.8 328.7 L610.6 336.3 L667.7 354" fill="none" stroke="#17a050" stroke-width="1.7"/>
<path d="M553.8 318V339.7M550.6 318H557M550.6 339.7H557" fill="none" stroke="#17a050" stroke-width="1.85"/>
<circle cx="553.8" cy="328.7" r="2.55" fill="#17a050"/>
<path d="M610.6 327.9V344.7M607.4 327.9H613.8M607.4 344.7H613.8" fill="none" stroke="#17a050" stroke-width="1.85"/>
<circle cx="610.6" cy="336.3" r="2.55" fill="#17a050"/>
<path d="M667.7 347V360.8M664.5 347H670.9M664.5 360.8H670.9" fill="none" stroke="#17a050" stroke-width="1.85"/>
<circle cx="667.7" cy="354" r="2.55" fill="#17a050"/>
<path d="M553.8 313 L610.6 321.4 L667.7 337.7" fill="none" stroke="#17a050" stroke-width="1.7" stroke-dasharray="4 2.3"/>
<path d="M553.8 300.6V323.7M550.6 300.6H557M550.6 323.7H557" fill="none" stroke="#17a050" stroke-width="1.85"/>
<rect x="550.9" y="310.1" width="5.8" height="5.8" fill="#17a050"/>
<path d="M610.6 311.6V332.1M607.4 311.6H613.8M607.4 332.1H613.8" fill="none" stroke="#17a050" stroke-width="1.85"/>
<rect x="607.7" y="318.5" width="5.8" height="5.8" fill="#17a050"/>
<path d="M667.7 329V347.3M664.5 329H670.9M664.5 347.3H670.9" fill="none" stroke="#17a050" stroke-width="1.85"/>
<rect x="664.8" y="334.8" width="5.8" height="5.8" fill="#17a050"/>
<path d="M515.8 257.95V384.9H704.85" fill="none" stroke="#000" stroke-width="2.3" stroke-linecap="square"/>
<line x1="510.8" y1="257.9" x2="515.8" y2="257.9" stroke="#000" stroke-width="2.12"/>
<text font-size="9.3" font-weight="700" stroke="#141414" stroke-width="0.3" text-anchor="end" fill="#141414" transform="translate(510.65 261.46) scale(1 1.040)">150</text>
<line x1="510.8" y1="289.9" x2="515.8" y2="289.9" stroke="#000" stroke-width="2.12"/>
<text font-size="9.3" font-weight="700" stroke="#141414" stroke-width="0.3" text-anchor="end" fill="#141414" transform="translate(510.65 293.46) scale(1 1.040)">100</text>
<line x1="510.8" y1="321.7" x2="515.8" y2="321.7" stroke="#000" stroke-width="2.12"/>
<text font-size="9.3" font-weight="700" stroke="#141414" stroke-width="0.3" text-anchor="end" fill="#141414" transform="translate(510.65 325.26) scale(1 1.040)">50</text>
<line x1="510.8" y1="353.5" x2="515.8" y2="353.5" stroke="#000" stroke-width="2.12"/>
<text font-size="9.3" font-weight="700" stroke="#141414" stroke-width="0.3" text-anchor="end" fill="#141414" transform="translate(510.65 357.06) scale(1 1.040)">0</text>
<line x1="510.8" y1="384.9" x2="515.8" y2="384.9" stroke="#000" stroke-width="2.12"/>
<text font-size="9.3" font-weight="700" stroke="#141414" stroke-width="0.3" text-anchor="end" fill="#141414" transform="translate(510.65 388.46) scale(1 1.040)">-50</text>
<line x1="553.8" y1="384.9" x2="553.8" y2="389.7" stroke="#000" stroke-width="2.12"/>
<text font-size="9.3" font-weight="700" stroke="#141414" stroke-width="0.3" text-anchor="end" fill="#141414" transform="translate(555.2 396.5) rotate(-45) scale(1 1.040)">10:1</text>
<line x1="610.6" y1="384.9" x2="610.6" y2="389.7" stroke="#000" stroke-width="2.12"/>
<text font-size="9.3" font-weight="700" stroke="#141414" stroke-width="0.3" text-anchor="end" fill="#141414" transform="translate(612 396.5) rotate(-45) scale(1 1.040)">5:1</text>
<line x1="667.7" y1="384.9" x2="667.7" y2="389.7" stroke="#000" stroke-width="2.12"/>
<text font-size="9.3" font-weight="700" stroke="#141414" stroke-width="0.3" text-anchor="end" fill="#141414" transform="translate(669.1 396.5) rotate(-45) scale(1 1.040)">1:1</text>
<text font-size="12.1" font-weight="700" stroke="#141414" stroke-width="0.39" text-anchor="middle" fill="#141414" transform="translate(611.2 242) scale(1 1.050)">CB CD19-CAR NK</text>
<text font-size="10.1" font-weight="700" stroke="#141414" stroke-width="0.32" text-anchor="middle" fill="#141414" transform="translate(610.7 424.5) scale(1 1.060)">Effector:target ratio</text>
<text font-size="10.1" font-weight="700" stroke="#141414" stroke-width="0.32" text-anchor="middle" fill="#141414" transform="translate(489.2 321.8) rotate(-90) scale(1 1.120)">% lysis target cells</text>
<line x1="734" y1="267.6" x2="749" y2="267.6" stroke="#0f58a3" stroke-width="1.95"/>
<circle cx="741" cy="267.6" r="2.55" fill="#0f58a3"/>
<text font-size="10.2" stroke="#141414" stroke-width="0.24" text-anchor="start" fill="#141414" transform="translate(755.8 271.08) scale(1 1.090)">Mock:K562</text>
<path d="M734 284.6H745.2M746.8 284.6H749" fill="none" stroke="#0f58a3" stroke-width="1.95"/>
<rect x="738.1" y="281.7" width="5.8" height="5.8" fill="#0f58a3"/>
<text font-size="10.2" stroke="#141414" stroke-width="0.24" text-anchor="start" fill="#141414" transform="translate(755.8 288.08) scale(1 1.090)">CAR-NK:K562</text>
<line x1="734" y1="302.7" x2="749" y2="302.7" stroke="#17a050" stroke-width="1.95"/>
<circle cx="741" cy="302.7" r="2.55" fill="#17a050"/>
<text font-size="10.2" stroke="#141414" stroke-width="0.24" text-anchor="start" fill="#141414" transform="translate(755.8 306.18) scale(1 1.090)">Mock:ALL</text>
<path d="M734 320.2H745.2M746.8 320.2H749" fill="none" stroke="#17a050" stroke-width="1.95"/>
<rect x="738.1" y="317.3" width="5.8" height="5.8" fill="#17a050"/>
<text font-size="10.2" stroke="#141414" stroke-width="0.24" text-anchor="start" fill="#141414" transform="translate(755.8 323.68) scale(1 1.090)">CAR-NK:ALL</text>
</g>
<g>
<line x1="520.9" y1="557.9" x2="707.4" y2="557.9" stroke="#000" stroke-width="1.55" stroke-dasharray="1.45 0.95"/>
<path d="M558 506 L614.3 507.4 L670.5 530.7" fill="none" stroke="#0e4d8f" stroke-width="1.55"/>
<path d="M558 497V515.2M554.8 497H561.2M554.8 515.2H561.2" fill="none" stroke="#0e4d8f" stroke-width="1.75"/>
<circle cx="558" cy="506" r="2.3" fill="#0e4d8f"/>
<path d="M614.3 498.4V516.6M611.1 498.4H617.5M611.1 516.6H617.5" fill="none" stroke="#0e4d8f" stroke-width="1.75"/>
<circle cx="614.3" cy="507.4" r="2.3" fill="#0e4d8f"/>
<path d="M670.5 525V537.7M667.3 525H673.7M667.3 537.7H673.7" fill="none" stroke="#0e4d8f" stroke-width="1.75"/>
<circle cx="670.5" cy="530.7" r="2.3" fill="#0e4d8f"/>
<path d="M558 506 L614.3 503.4 L670.5 528.7" fill="none" stroke="#0e4d8f" stroke-width="1.55" stroke-dasharray="4 2.3"/>
<path d="M558 497.5V514.2M554.8 497.5H561.2M554.8 514.2H561.2" fill="none" stroke="#0e4d8f" stroke-width="1.75"/>
<rect x="555.3" y="503.3" width="5.4" height="5.4" fill="#0e4d8f"/>
<path d="M614.3 489.4V515.2M611.1 489.4H617.5M611.1 515.2H617.5" fill="none" stroke="#0e4d8f" stroke-width="1.75"/>
<rect x="611.6" y="500.7" width="5.4" height="5.4" fill="#0e4d8f"/>
<path d="M670.5 524.2V535M667.3 524.2H673.7M667.3 535H673.7" fill="none" stroke="#0e4d8f" stroke-width="1.75"/>
<rect x="667.8" y="526" width="5.4" height="5.4" fill="#0e4d8f"/>
<path d="M558 560.8 L614.3 569.2 L670.5 569.5" fill="none" stroke="#10c9f7" stroke-width="1.55"/>
<path d="M558 555V564.4M554.8 555H561.2M554.8 564.4H561.2" fill="none" stroke="#10c9f7" stroke-width="1.75"/>
<circle cx="558" cy="560.8" r="2.3" fill="#10c9f7"/>
<path d="M614.3 564.4V574.3M611.1 564.4H617.5M611.1 574.3H617.5" fill="none" stroke="#10c9f7" stroke-width="1.75"/>
<circle cx="614.3" cy="569.2" r="2.3" fill="#10c9f7"/>
<path d="M670.5 561.6V577.6M667.3 561.6H673.7M667.3 577.6H673.7" fill="none" stroke="#10c9f7" stroke-width="1.75"/>
<circle cx="670.5" cy="569.5" r="2.3" fill="#10c9f7"/>
<path d="M558 535.7 L614.3 544.7 L670.5 560.2" fill="none" stroke="#10c9f7" stroke-width="1.55" stroke-dasharray="4 2.3"/>
<path d="M558 527V544.2M554.8 527H561.2M554.8 544.2H561.2" fill="none" stroke="#10c9f7" stroke-width="1.75"/>
<rect x="555.3" y="533" width="5.4" height="5.4" fill="#10c9f7"/>
<path d="M614.3 541V549M611.1 541H617.5M611.1 549H617.5" fill="none" stroke="#10c9f7" stroke-width="1.75"/>
<rect x="611.6" y="542" width="5.4" height="5.4" fill="#10c9f7"/>
<path d="M670.5 554V565.8M667.3 554H673.7M667.3 565.8H673.7" fill="none" stroke="#10c9f7" stroke-width="1.75"/>
<rect x="667.8" y="557.5" width="5.4" height="5.4" fill="#10c9f7"/>
<path d="M520.9 463.75V589.1H707.25" fill="none" stroke="#000" stroke-width="2.3" stroke-linecap="square"/>
<line x1="515.9" y1="463.8" x2="520.9" y2="463.8" stroke="#000" stroke-width="2.12"/>
<text font-size="9.3" font-weight="700" stroke="#141414" stroke-width="0.3" text-anchor="end" fill="#141414" transform="translate(515.75 467.36) scale(1 1.040)">150</text>
<line x1="515.9" y1="495.3" x2="520.9" y2="495.3" stroke="#000" stroke-width="2.12"/>
<text font-size="9.3" font-weight="700" stroke="#141414" stroke-width="0.3" text-anchor="end" fill="#141414" transform="translate(515.75 498.86) scale(1 1.040)">100</text>
<line x1="515.9" y1="526.6" x2="520.9" y2="526.6" stroke="#000" stroke-width="2.12"/>
<text font-size="9.3" font-weight="700" stroke="#141414" stroke-width="0.3" text-anchor="end" fill="#141414" transform="translate(515.75 530.16) scale(1 1.040)">50</text>
<line x1="515.9" y1="557.9" x2="520.9" y2="557.9" stroke="#000" stroke-width="2.12"/>
<text font-size="9.3" font-weight="700" stroke="#141414" stroke-width="0.3" text-anchor="end" fill="#141414" transform="translate(515.75 561.46) scale(1 1.040)">0</text>
<line x1="515.9" y1="589" x2="520.9" y2="589" stroke="#000" stroke-width="2.12"/>
<text font-size="9.3" font-weight="700" stroke="#141414" stroke-width="0.3" text-anchor="end" fill="#141414" transform="translate(515.75 592.56) scale(1 1.040)">-50</text>
<line x1="558" y1="589.1" x2="558" y2="593.9" stroke="#000" stroke-width="2.12"/>
<text font-size="9.3" font-weight="700" stroke="#141414" stroke-width="0.3" text-anchor="end" fill="#141414" transform="translate(559.4 600.7) rotate(-45) scale(1 1.040)">10:1</text>
<line x1="614.3" y1="589.1" x2="614.3" y2="593.9" stroke="#000" stroke-width="2.12"/>
<text font-size="9.3" font-weight="700" stroke="#141414" stroke-width="0.3" text-anchor="end" fill="#141414" transform="translate(615.7 600.7) rotate(-45) scale(1 1.040)">5:1</text>
<line x1="670.5" y1="589.1" x2="670.5" y2="593.9" stroke="#000" stroke-width="2.12"/>
<text font-size="9.3" font-weight="700" stroke="#141414" stroke-width="0.3" text-anchor="end" fill="#141414" transform="translate(671.9 600.7) rotate(-45) scale(1 1.040)">1:1</text>
<text font-size="12" font-weight="700" stroke="#141414" stroke-width="0.38" text-anchor="middle" fill="#141414" transform="translate(614.5 447.6) scale(1 1.050)">CB CD19-CAR NK</text>
<text font-size="10.1" font-weight="700" stroke="#141414" stroke-width="0.32" text-anchor="middle" fill="#141414" transform="translate(614.5 627.8) scale(1 0.930)">Effector:target ratio</text>
<text font-size="10.1" font-weight="700" stroke="#141414" stroke-width="0.32" text-anchor="middle" fill="#141414" transform="translate(494.2 527.1) rotate(-90) scale(1 1.120)">% lysis target cells</text>
<path d="M561.4 523.1H564.6Q566 523.1 566 524.5V562.2Q566 563.6 564.6 563.6H561.4" fill="none" stroke="#1c1c1c" stroke-width="1.3"/>
<path d="M571.2 545.9V552.1M568.91 546.92L573.49 551.08M568.91 551.08L573.49 546.92" fill="none" stroke="#111" stroke-width="1.2"/>
<path d="M578.6 545.9V552.1M576.31 546.92L580.89 551.08M576.31 551.08L580.89 546.92" fill="none" stroke="#111" stroke-width="1.2"/>
<path d="M620.7 536.6H625Q626.4 536.6 626.4 538V575.6Q626.4 577 625 577H620.7" fill="none" stroke="#1c1c1c" stroke-width="1.3"/>
<path d="M633.4 551.5V557.7M631.11 552.52L635.69 556.68M631.11 556.68L635.69 552.52" fill="none" stroke="#111" stroke-width="1.2"/>
<line x1="736" y1="472.6" x2="750.8" y2="472.6" stroke="#0e4d8f" stroke-width="1.78"/>
<circle cx="743.3" cy="472.6" r="2.3" fill="#0e4d8f"/>
<text font-size="10.1" stroke="#141414" stroke-width="0.24" text-anchor="start" fill="#141414" transform="translate(757.8 476.04) scale(1 1.090)">Mock:K562</text>
<path d="M736 490.2H747M748.6 490.2H750.8" fill="none" stroke="#0e4d8f" stroke-width="1.78"/>
<rect x="740.6" y="487.5" width="5.4" height="5.4" fill="#0e4d8f"/>
<text font-size="10.1" stroke="#141414" stroke-width="0.24" text-anchor="start" fill="#141414" transform="translate(757.8 493.64) scale(1 1.090)">CAR-NK:K562</text>
<line x1="736" y1="507.7" x2="750.8" y2="507.7" stroke="#10c9f7" stroke-width="1.78"/>
<circle cx="743.3" cy="507.7" r="2.3" fill="#10c9f7"/>
<text font-size="10.1" stroke="#141414" stroke-width="0.24" text-anchor="start" fill="#141414" transform="translate(757.8 511.14) scale(1 1.090)">Mock:CLL</text>
<path d="M736 525.2H747M748.6 525.2H750.8" fill="none" stroke="#10c9f7" stroke-width="1.78"/>
<rect x="740.6" y="522.5" width="5.4" height="5.4" fill="#10c9f7"/>
<text font-size="10.1" stroke="#141414" stroke-width="0.24" text-anchor="start" fill="#141414" transform="translate(757.8 528.64) scale(1 1.090)">CAR-NK:CLL</text>
</g>
<g>
<line x1="70.4" y1="847.8" x2="293" y2="847.8" stroke="#000" stroke-width="1.8" stroke-dasharray="1.7 1.15"/>
<path d="M114.4 824.9 L181.5 846.6 L248.5 848.8" fill="none" stroke="#f5301c" stroke-width="1.9"/>
<path d="M114.4 816.3V833.5M110.4 816.3H118.4M110.4 833.5H118.4" fill="none" stroke="#f5301c" stroke-width="2.05"/>
<circle cx="114.4" cy="824.9" r="2.8" fill="#f5301c"/>
<path d="M181.5 840.2V852.7M177.5 840.2H185.5M177.5 852.7H185.5" fill="none" stroke="#f5301c" stroke-width="2.05"/>
<circle cx="181.5" cy="846.6" r="2.8" fill="#f5301c"/>
<path d="M248.5 843.7V854.2M244.5 843.7H252.5M244.5 854.2H252.5" fill="none" stroke="#f5301c" stroke-width="2.05"/>
<circle cx="248.5" cy="848.8" r="2.8" fill="#f5301c"/>
<path d="M114.4 785 L181.5 804.2 L248.5 816.6" fill="none" stroke="#f5301c" stroke-width="1.9" stroke-dasharray="5.2 3"/>
<path d="M114.4 774.2V798.3M110.4 774.2H118.4M110.4 798.3H118.4" fill="none" stroke="#f5301c" stroke-width="2.05"/>
<rect x="111.2" y="781.8" width="6.4" height="6.4" fill="#f5301c"/>
<path d="M181.5 796.4V812M177.5 796.4H185.5M177.5 812H185.5" fill="none" stroke="#f5301c" stroke-width="2.05"/>
<rect x="178.3" y="801" width="6.4" height="6.4" fill="#f5301c"/>
<path d="M248.5 806.5V828.4M244.5 806.5H252.5M244.5 828.4H252.5" fill="none" stroke="#f5301c" stroke-width="2.05"/>
<rect x="245.3" y="813.4" width="6.4" height="6.4" fill="#f5301c"/>
<path d="M114.4 819 L181.5 827.4 L248.5 849" fill="none" stroke="#1f3cf5" stroke-width="1.9"/>
<path d="M114.4 805.9V832.1M110.4 805.9H118.4M110.4 832.1H118.4" fill="none" stroke="#1f3cf5" stroke-width="2.05"/>
<circle cx="114.4" cy="819" r="2.8" fill="#1f3cf5"/>
<path d="M181.5 817.1V837.7M177.5 817.1H185.5M177.5 837.7H185.5" fill="none" stroke="#1f3cf5" stroke-width="2.05"/>
<circle cx="181.5" cy="827.4" r="2.8" fill="#1f3cf5"/>
<path d="M248.5 840.6V856.5M244.5 840.6H252.5M244.5 856.5H252.5" fill="none" stroke="#1f3cf5" stroke-width="2.05"/>
<circle cx="248.5" cy="849" r="2.8" fill="#1f3cf5"/>
<path d="M114.4 800.3 L181.5 810.2 L248.5 829.5" fill="none" stroke="#1f3cf5" stroke-width="1.9" stroke-dasharray="5.2 3"/>
<path d="M114.4 787.9V812.9M110.4 787.9H118.4M110.4 812.9H118.4" fill="none" stroke="#1f3cf5" stroke-width="2.05"/>
<rect x="111.2" y="797.1" width="6.4" height="6.4" fill="#1f3cf5"/>
<path d="M181.5 797.8V822.2M177.5 797.8H185.5M177.5 822.2H185.5" fill="none" stroke="#1f3cf5" stroke-width="2.05"/>
<rect x="178.3" y="807" width="6.4" height="6.4" fill="#1f3cf5"/>
<path d="M248.5 819.5V840.2M244.5 819.5H252.5M244.5 840.2H252.5" fill="none" stroke="#1f3cf5" stroke-width="2.05"/>
<rect x="245.3" y="826.3" width="6.4" height="6.4" fill="#1f3cf5"/>
<path d="M70.4 736.12V885H292.57" fill="none" stroke="#000" stroke-width="2.85" stroke-linecap="square"/>
<line x1="64.1" y1="736.1" x2="70.4" y2="736.1" stroke="#000" stroke-width="2.62"/>
<text font-size="10.9" font-weight="700" stroke="#141414" stroke-width="0.35" text-anchor="end" fill="#141414" transform="translate(63.95 740.49) scale(1 1.100)">150</text>
<line x1="64.1" y1="773.4" x2="70.4" y2="773.4" stroke="#000" stroke-width="2.62"/>
<text font-size="10.9" font-weight="700" stroke="#141414" stroke-width="0.35" text-anchor="end" fill="#141414" transform="translate(63.95 777.79) scale(1 1.100)">100</text>
<line x1="64.1" y1="810.8" x2="70.4" y2="810.8" stroke="#000" stroke-width="2.62"/>
<text font-size="10.9" font-weight="700" stroke="#141414" stroke-width="0.35" text-anchor="end" fill="#141414" transform="translate(63.95 815.19) scale(1 1.100)">50</text>
<line x1="64.1" y1="847.8" x2="70.4" y2="847.8" stroke="#000" stroke-width="2.62"/>
<text font-size="10.9" font-weight="700" stroke="#141414" stroke-width="0.35" text-anchor="end" fill="#141414" transform="translate(63.95 852.19) scale(1 1.100)">0</text>
<line x1="64.1" y1="885" x2="70.4" y2="885" stroke="#000" stroke-width="2.62"/>
<text font-size="10.9" font-weight="700" stroke="#141414" stroke-width="0.35" text-anchor="end" fill="#141414" transform="translate(63.95 889.39) scale(1 1.100)">-50</text>
<line x1="114.4" y1="885" x2="114.4" y2="891.1" stroke="#000" stroke-width="2.62"/>
<text font-size="10.9" font-weight="700" stroke="#141414" stroke-width="0.35" text-anchor="end" fill="#141414" transform="translate(117.2 899) rotate(-45) scale(1 1.100)">10:1</text>
<line x1="181.5" y1="885" x2="181.5" y2="891.1" stroke="#000" stroke-width="2.62"/>
<text font-size="10.9" font-weight="700" stroke="#141414" stroke-width="0.35" text-anchor="end" fill="#141414" transform="translate(184.3 899) rotate(-45) scale(1 1.100)">5:1</text>
<line x1="248.5" y1="885" x2="248.5" y2="891.1" stroke="#000" stroke-width="2.62"/>
<text font-size="10.9" font-weight="700" stroke="#141414" stroke-width="0.35" text-anchor="end" fill="#141414" transform="translate(251.3 899) rotate(-45) scale(1 1.100)">1:1</text>
<text font-size="14.2" font-weight="700" stroke="#141414" stroke-width="0.45" text-anchor="middle" fill="#141414" transform="translate(182 716.6) scale(1 1.050)">AB vs CB</text>
<text font-size="11.85" font-weight="700" stroke="#141414" stroke-width="0.38" text-anchor="middle" fill="#141414" transform="translate(181.4 930.6) scale(1 1.060)">Effector:target ratio</text>
<text font-size="11.8" font-weight="700" stroke="#141414" stroke-width="0.38" text-anchor="middle" fill="#141414" transform="translate(37.4 811) rotate(-90) scale(1 1.150)">% lysis target cells</text>
<line x1="303.8" y1="740.6" x2="320.7" y2="740.6" stroke="#f5301c" stroke-width="2.18"/>
<circle cx="312.2" cy="740.6" r="2.8" fill="#f5301c"/>
<text font-size="12.1" stroke="#141414" stroke-width="0.29" text-anchor="start" fill="#141414" transform="translate(332 744.82) scale(1 1.090)">AB Mock:ALL</text>
<path d="M303.8 761.8H316.7M318 761.8H320.7" fill="none" stroke="#f5301c" stroke-width="2.18"/>
<rect x="309" y="758.6" width="6.4" height="6.4" fill="#f5301c"/>
<text font-size="12.1" stroke="#141414" stroke-width="0.29" text-anchor="start" fill="#141414" transform="translate(329.4 766.02) scale(1 1.090)">AB CAR-NK:ALL</text>
<line x1="303.8" y1="782.4" x2="320.7" y2="782.4" stroke="#1f3cf5" stroke-width="2.18"/>
<circle cx="312.2" cy="782.4" r="2.8" fill="#1f3cf5"/>
<text font-size="12.1" stroke="#141414" stroke-width="0.29" text-anchor="start" fill="#141414" transform="translate(329.4 786.62) scale(1 1.090)">CB Mock:ALL</text>
<path d="M303.8 803.2H316.7M318 803.2H320.7" fill="none" stroke="#1f3cf5" stroke-width="2.18"/>
<rect x="309" y="800" width="6.4" height="6.4" fill="#1f3cf5"/>
<text font-size="12.1" stroke="#141414" stroke-width="0.29" text-anchor="start" fill="#141414" transform="translate(329.4 807.42) scale(1 1.090)">CB CAR-NK:ALL</text>
</g>
<g>
<line x1="486.9" y1="811.5" x2="710.5" y2="811.5" stroke="#000" stroke-width="1.8" stroke-dasharray="1.7 1.15"/>
<path d="M531.7 811.7 L599.3 811.8 L666.8 836.8" fill="none" stroke="#f5301c" stroke-width="1.9"/>
<path d="M531.7 795.4V828.9M527.7 795.4H535.7M527.7 828.9H535.7" fill="none" stroke="#f5301c" stroke-width="2.05"/>
<circle cx="531.7" cy="811.7" r="2.8" fill="#f5301c"/>
<path d="M599.3 794.7V829.6M595.3 794.7H603.3M595.3 829.6H603.3" fill="none" stroke="#f5301c" stroke-width="2.05"/>
<circle cx="599.3" cy="811.8" r="2.8" fill="#f5301c"/>
<path d="M666.8 813.7V859.9M662.8 813.7H670.8M662.8 859.9H670.8" fill="none" stroke="#f5301c" stroke-width="2.05"/>
<circle cx="666.8" cy="836.8" r="2.8" fill="#f5301c"/>
<path d="M531.7 761.8 L599.3 771.9 L666.8 774.3" fill="none" stroke="#f5301c" stroke-width="1.9" stroke-dasharray="5.2 3"/>
<path d="M531.7 749.9V774.1M527.7 749.9H535.7M527.7 774.1H535.7" fill="none" stroke="#f5301c" stroke-width="2.05"/>
<rect x="528.5" y="758.6" width="6.4" height="6.4" fill="#f5301c"/>
<path d="M599.3 757.6V786.2M595.3 757.6H603.3M595.3 786.2H603.3" fill="none" stroke="#f5301c" stroke-width="2.05"/>
<rect x="596.1" y="768.7" width="6.4" height="6.4" fill="#f5301c"/>
<path d="M666.8 760.9V788.1M662.8 760.9H670.8M662.8 788.1H670.8" fill="none" stroke="#f5301c" stroke-width="2.05"/>
<rect x="663.6" y="771.1" width="6.4" height="6.4" fill="#f5301c"/>
<path d="M531.7 815.1 L599.3 833.8 L666.8 835.2" fill="none" stroke="#1f3cf5" stroke-width="1.9"/>
<path d="M531.7 806.1V824.2M527.7 806.1H535.7M527.7 824.2H535.7" fill="none" stroke="#1f3cf5" stroke-width="2.05"/>
<circle cx="531.7" cy="815.1" r="2.8" fill="#1f3cf5"/>
<path d="M599.3 824.1V843M595.3 824.1H603.3M595.3 843H603.3" fill="none" stroke="#1f3cf5" stroke-width="2.05"/>
<circle cx="599.3" cy="833.8" r="2.8" fill="#1f3cf5"/>
<path d="M666.8 827.9V851.5M662.8 827.9H670.8M662.8 851.5H670.8" fill="none" stroke="#1f3cf5" stroke-width="2.05"/>
<circle cx="666.8" cy="835.2" r="2.8" fill="#1f3cf5"/>
<path d="M531.7 766.4 L599.3 784.6 L666.8 816.2" fill="none" stroke="#1f3cf5" stroke-width="1.9" stroke-dasharray="5.2 3"/>
<path d="M531.7 749.8V783.5M527.7 749.8H535.7M527.7 783.5H535.7" fill="none" stroke="#1f3cf5" stroke-width="2.05"/>
<rect x="528.5" y="763.2" width="6.4" height="6.4" fill="#1f3cf5"/>
<path d="M599.3 777.1V792.9M595.3 777.1H603.3M595.3 792.9H603.3" fill="none" stroke="#1f3cf5" stroke-width="2.05"/>
<rect x="596.1" y="781.4" width="6.4" height="6.4" fill="#1f3cf5"/>
<path d="M666.8 804.6V827.9M662.8 804.6H670.8M662.8 827.9H670.8" fill="none" stroke="#1f3cf5" stroke-width="2.05"/>
<rect x="663.6" y="813" width="6.4" height="6.4" fill="#1f3cf5"/>
<path d="M486.9 736.42V886.7H710.58" fill="none" stroke="#000" stroke-width="2.85" stroke-linecap="square"/>
<line x1="480.6" y1="736.4" x2="486.9" y2="736.4" stroke="#000" stroke-width="2.62"/>
<text font-size="10.9" font-weight="700" stroke="#141414" stroke-width="0.35" text-anchor="end" fill="#141414" transform="translate(480.45 740.79) scale(1 1.100)">60</text>
<line x1="480.6" y1="761.5" x2="486.9" y2="761.5" stroke="#000" stroke-width="2.62"/>
<text font-size="10.9" font-weight="700" stroke="#141414" stroke-width="0.35" text-anchor="end" fill="#141414" transform="translate(480.45 765.89) scale(1 1.100)">40</text>
<line x1="480.6" y1="786.5" x2="486.9" y2="786.5" stroke="#000" stroke-width="2.62"/>
<text font-size="10.9" font-weight="700" stroke="#141414" stroke-width="0.35" text-anchor="end" fill="#141414" transform="translate(480.45 790.89) scale(1 1.100)">20</text>
<line x1="480.6" y1="811.5" x2="486.9" y2="811.5" stroke="#000" stroke-width="2.62"/>
<text font-size="10.9" font-weight="700" stroke="#141414" stroke-width="0.35" text-anchor="end" fill="#141414" transform="translate(480.45 815.89) scale(1 1.100)">0</text>
<line x1="480.6" y1="836.4" x2="486.9" y2="836.4" stroke="#000" stroke-width="2.62"/>
<text font-size="10.9" font-weight="700" stroke="#141414" stroke-width="0.35" text-anchor="end" fill="#141414" transform="translate(480.45 840.79) scale(1 1.100)">-20</text>
<line x1="480.6" y1="861.4" x2="486.9" y2="861.4" stroke="#000" stroke-width="2.62"/>
<text font-size="10.9" font-weight="700" stroke="#141414" stroke-width="0.35" text-anchor="end" fill="#141414" transform="translate(480.45 865.79) scale(1 1.100)">-40</text>
<line x1="480.6" y1="886.7" x2="486.9" y2="886.7" stroke="#000" stroke-width="2.62"/>
<text font-size="10.9" font-weight="700" stroke="#141414" stroke-width="0.35" text-anchor="end" fill="#141414" transform="translate(480.45 891.09) scale(1 1.100)">-60</text>
<line x1="531.7" y1="886.7" x2="531.7" y2="892.8" stroke="#000" stroke-width="2.62"/>
<text font-size="10.9" font-weight="700" stroke="#141414" stroke-width="0.35" text-anchor="end" fill="#141414" transform="translate(534.5 900.7) rotate(-45) scale(1 1.100)">10:1</text>
<line x1="599.3" y1="886.7" x2="599.3" y2="892.8" stroke="#000" stroke-width="2.62"/>
<text font-size="10.9" font-weight="700" stroke="#141414" stroke-width="0.35" text-anchor="end" fill="#141414" transform="translate(602.1 900.7) rotate(-45) scale(1 1.100)">5:1</text>
<line x1="666.8" y1="886.7" x2="666.8" y2="892.8" stroke="#000" stroke-width="2.62"/>
<text font-size="10.9" font-weight="700" stroke="#141414" stroke-width="0.35" text-anchor="end" fill="#141414" transform="translate(669.6 900.7) rotate(-45) scale(1 1.100)">1:1</text>
<text font-size="14.2" font-weight="700" stroke="#141414" stroke-width="0.45" text-anchor="middle" fill="#141414" transform="translate(599.6 716.7) scale(1 1.050)">AB vs CB</text>
<text font-size="11.85" font-weight="700" stroke="#141414" stroke-width="0.38" text-anchor="middle" fill="#141414" transform="translate(599.3 932.8) scale(1 1.060)">Effector:target ratio</text>
<text font-size="11.8" font-weight="700" stroke="#141414" stroke-width="0.38" text-anchor="middle" fill="#141414" transform="translate(456.8 811.8) rotate(-90) scale(1 1.150)">% lysis target cells</text>
<path d="M676.1 769.9H680.6Q682.4 769.9 682.4 771.7V815.4Q682.4 817.2 680.6 817.2H676.1" fill="none" stroke="#1c1c1c" stroke-width="1.55"/>
<path d="M695.6 785.2V792.2M693.01 786.36L698.19 791.05M693.01 791.05L698.19 786.36" fill="none" stroke="#111" stroke-width="1.4"/>
<line x1="731.9" y1="741" x2="749.1" y2="741" stroke="#f5301c" stroke-width="2.18"/>
<circle cx="740.5" cy="741" r="2.8" fill="#f5301c"/>
<text font-size="12.15" stroke="#141414" stroke-width="0.29" text-anchor="start" fill="#141414" transform="translate(760.4 745.24) scale(1 1.090)">AB Mock:CLL</text>
<path d="M731.9 761.8H745.1M746.4 761.8H749.1" fill="none" stroke="#f5301c" stroke-width="2.18"/>
<rect x="737.3" y="758.6" width="6.4" height="6.4" fill="#f5301c"/>
<text font-size="12.15" stroke="#141414" stroke-width="0.29" text-anchor="start" fill="#141414" transform="translate(758 766.04) scale(1 1.090)">AB CAR-NK:CLL</text>
<line x1="731.9" y1="782.7" x2="749.1" y2="782.7" stroke="#1f3cf5" stroke-width="2.18"/>
<circle cx="740.5" cy="782.7" r="2.8" fill="#1f3cf5"/>
<text font-size="12.15" stroke="#141414" stroke-width="0.29" text-anchor="start" fill="#141414" transform="translate(758 786.94) scale(1 1.090)">CB Mock:CLL</text>
<path d="M731.9 803.9H745.1M746.4 803.9H749.1" fill="none" stroke="#1f3cf5" stroke-width="2.18"/>
<rect x="737.3" y="800.7" width="6.4" height="6.4" fill="#1f3cf5"/>
<text font-size="12.15" stroke="#141414" stroke-width="0.29" text-anchor="start" fill="#141414" transform="translate(758 808.14) scale(1 1.090)">CB CAR-NK:CLL</text>
</g>
<rect x="0" y="630.7" width="430" height="14" fill="#fff"/>
<rect x="60" y="230.7" width="160" height="4" fill="#fff"/>
<text font-size="20.8" text-anchor="start" fill="#222" transform="translate(15.4 34.1) scale(1 0.940)" letter-spacing="-0.7">a)</text>
<text font-size="20.8" text-anchor="start" fill="#222" transform="translate(457.8 31.2) scale(1 0.940)" letter-spacing="-0.7">b)</text>
<text font-size="20.8" text-anchor="start" fill="#222" transform="translate(27.2 672.4) scale(1 0.940)" letter-spacing="-0.7">c)</text>
</svg>
</body></html>
